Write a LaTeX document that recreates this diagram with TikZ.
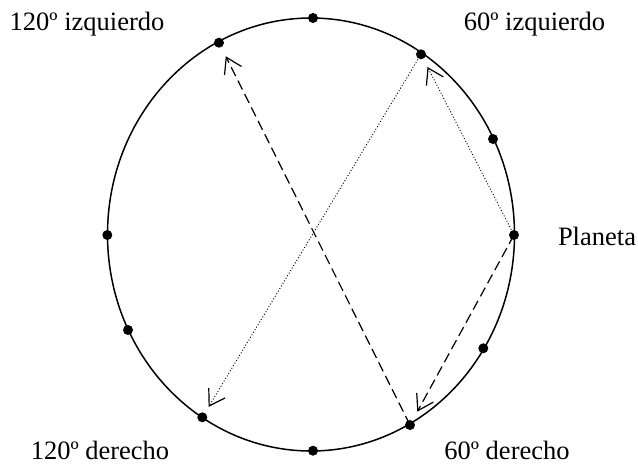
\documentclass[tikz,border=0pt]{standalone}
\usepackage{fontspec}
\setmainfont{Liberation Serif}
\usetikzlibrary{arrows.meta}
\tikzset{
  dot/.style={circle,fill=black,inner sep=0pt,minimum size=10pt},
  lbl/.style={anchor=base,inner sep=0pt,font=\fontsize{26.5}{31}\selectfont},
  barb/.style={-{Straight Barb[length=15pt,width=19pt,line width=1.2pt]}},
  dashline/.style={barb,line width=1.2pt,dash pattern=on 10pt off 5pt},
  dotline/.style={barb,line width=0.9pt,dash pattern=on 1pt off 2pt},
}
\begin{document}
\begin{tikzpicture}[x=1pt,y=-1pt]
\useasboundingbox (0,0) rectangle (638,467);
\draw[line width=1.5pt] (311,234.5) ellipse [x radius=203.5, y radius=216.5];
\node[dot] (top) at (313,18) {};
\node[dot] (izq120) at (219,42.7) {};
\node[dot] (izq60) at (421,54.3) {};
\node[dot] (r1) at (493,139) {};
\node[dot] (planeta) at (514,235) {};
\node[dot] (r2) at (483.3,348.3) {};
\node[dot] (der60) at (410,425) {};
\node[dot] (bot) at (313,450.7) {};
\node[dot] (der120) at (202.3,417.3) {};
\node[dot] (l1) at (128,330) {};
\node[dot] (left) at (107.3,235) {};
\node[lbl] (t1) at (87,30) {120º izquierdo};
\node[lbl] (t2) at (534.5,30) {60º izquierdo};
\node[lbl] (t3) at (597,245) {Planeta};
\node[lbl] (t4) at (100,459) {120º derecho};
\node[lbl] (t5) at (507,459) {60º derecho};
\draw[dotline,shorten >=9pt] (planeta.center) -- (izq60);
\draw[dashline,shorten >=10pt] (planeta.center) -- (der60);
\draw[dashline,shorten >=10pt] (der60.center) -- (izq120);
\draw[dotline,shorten >=7pt] (izq60.center) -- (der120);
\end{tikzpicture}
\end{document}
